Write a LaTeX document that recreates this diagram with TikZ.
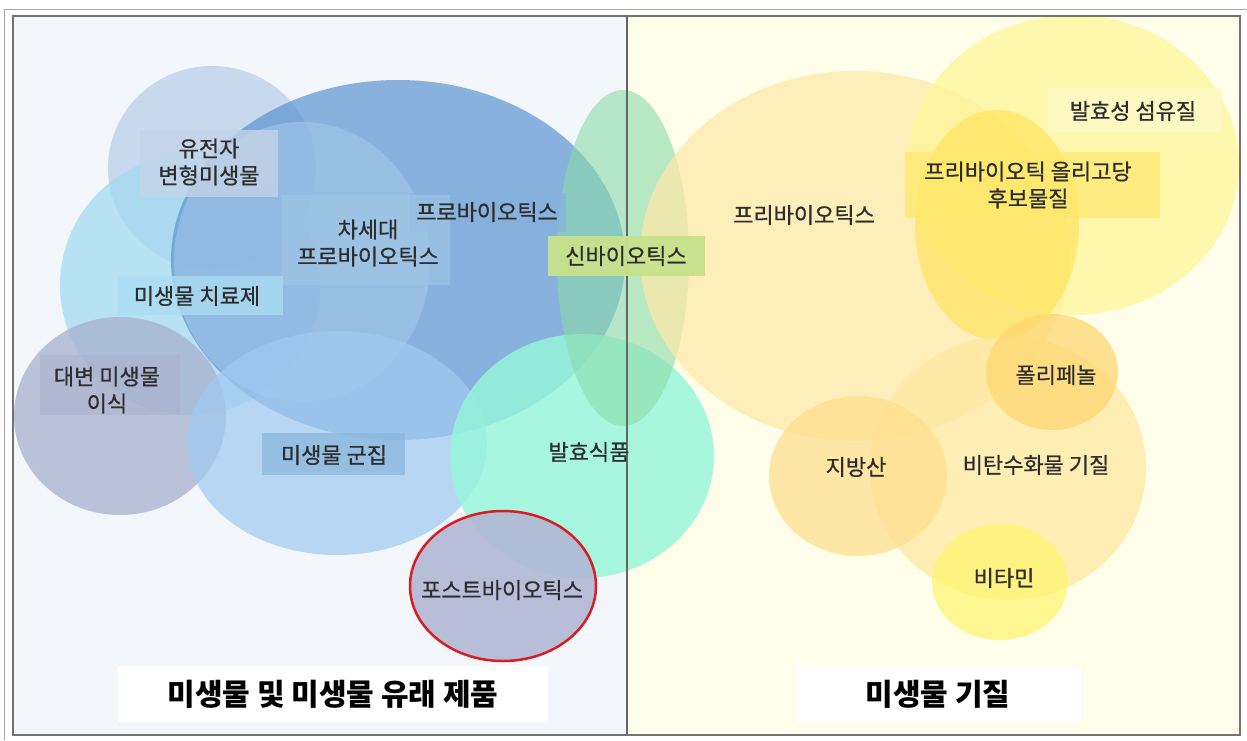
\documentclass[tikz,border=0pt]{standalone}
\usepackage{fontspec}
\setmainfont{Noto Sans CJK KR}
\newfontfamily\lblfont[FakeBold=0.6]{Noto Sans CJK KR}
\begin{document}
\begin{tikzpicture}[x=1pt,y=-1pt,
  blob/.style={fill opacity=0.72},
  lbl/.style={font=\lblfont\fontsize{22}{27}\selectfont, text={rgb,255:red,45;green,45;blue,45}, align=center, inner sep=3pt},
  title/.style={font=\fontsize{30}{34}\selectfont\bfseries, fill=white, text=black, inner sep=0pt}]
\useasboundingbox (0,0) rectangle (1247,740);
\fill[white] (0,0) rectangle (1247,740);
% backgrounds
\fill[fill={rgb,255:red,243;green,247;blue,252}] (12,14) rectangle (627,735);
\fill[fill={rgb,255:red,254;green,254;blue,234}] (627,14) rectangle (1240,735);
% left circles
\fill[blob, fill={rgb,255:red,184;green,205;blue,232}] (212,168) ellipse (104 and 102);
\fill[blob, fill={rgb,255:red,160;green,218;blue,242}] (190,285) ellipse (130 and 130);
\fill[blob, fill={rgb,255:red,165;green,174;blue,204}] (120,416) ellipse (106 and 99);
\fill[blob, fill={rgb,255:red,95;green,150;blue,210}] (398,260) ellipse (227 and 180);
\fill[fill={rgb,255:red,163;green,199;blue,232},fill opacity=0.6] (302,262) ellipse (128 and 140);
\fill[blob, fill={rgb,255:red,160;green,202;blue,240}] (337,443) ellipse (150 and 112);
\fill[fill={rgb,255:red,150;green,246;blue,218}, fill opacity=0.82] (582,456) ellipse (132 and 122);
\fill[fill={rgb,255:red,140;green,220;blue,170}, fill opacity=0.6] (623,258) ellipse (66 and 168);
\fill[fill={rgb,255:red,178;green,184;blue,212}, fill opacity=0.9] (503,586) ellipse (93 and 75);
\draw[line width=2.5pt, draw={rgb,255:red,215;green,30;blue,35}] (503,586) ellipse (93 and 75);
% right circles
\fill[blob, fill={rgb,255:red,254;green,232;blue,168}] (855,256) ellipse (215 and 185);
\fill[blob, fill={rgb,255:red,255;green,246;blue,150}] (1073,165) ellipse (166 and 150);
\fill[fill={rgb,255:red,255;green,226;blue,80}, fill opacity=0.6] (997,225) ellipse (82 and 115);
\fill[blob, fill={rgb,255:red,255;green,232;blue,160}] (1008,468) ellipse (138 and 132);
\fill[blob, fill={rgb,255:red,255;green,214;blue,110}] (1052,372) ellipse (66 and 58);
\fill[blob, fill={rgb,255:red,255;green,222;blue,140}] (858,476) ellipse (89 and 80);
\fill[blob, fill={rgb,255:red,255;green,244;blue,110}] (1000,582) ellipse (68 and 58);
% frame
\draw[gray!70, line width=1pt] (4,9) -- (1247,9);
\draw[gray!70, line width=1pt] (4,9) -- (4,740);
\draw[black!55, line width=1.2pt] (13,16) rectangle (1240,735);
\draw[black!60, line width=1.5pt] (627,16) -- (627,735);
% label boxes
\fill[fill={rgb,255:red,196;green,212;blue,232}, fill opacity=0.8] (140,130) rectangle (278,197);
\fill[fill={rgb,255:red,135;green,178;blue,222}, fill opacity=0.7] (410,193) rectangle (566,232);
\fill[fill={rgb,255:red,160;green,198;blue,230}, fill opacity=0.6] (282,195) rectangle (450,285);
\fill[fill={rgb,255:red,170;green,220;blue,242}, fill opacity=0.8] (118,276) rectangle (283,315);
\fill[fill={rgb,255:red,200;green,226;blue,140}, fill opacity=0.95] (548,236) rectangle (705,276);
\fill[fill={rgb,255:red,170;green,178;blue,206}, fill opacity=0.6] (40,355) rectangle (180,415);
\fill[fill={rgb,255:red,140;green,184;blue,222}, fill opacity=0.8] (262,433) rectangle (405,475);
\fill[fill={rgb,255:red,255;green,250;blue,200}, fill opacity=0.8] (1048,88) rectangle (1222,132);
\fill[fill={rgb,255:red,255;green,232;blue,110}, fill opacity=0.7] (905,152) rectangle (1160,218);
% labels
\node[lbl] (gmo) at (209,162) {유전자\\변형미생물};
\node[lbl] (pro) at (487,212) {프로바이오틱스};
\node[lbl] (ngp) at (368,243) {차세대\\프로바이오틱스};
\node[lbl] (ther) at (197,296) {미생물 치료제};
\node[lbl] (syn) at (626,256) {신바이오틱스};
\node[lbl] (fmt) at (107,390) {대변 미생물\\이식};
\node[lbl] (comm) at (334,455) {미생물 군집};
\node[lbl] (ferm) at (589,452) {발효식품};
\node[lbl] (post) at (502,590) {포스트바이오틱스};
\node[lbl] (pre) at (804,215) {프리바이오틱스};
\node[lbl] (fib) at (1133,111) {발효성 섬유질};
\node[lbl] (oligo) at (1028,185) {프리바이오틱 올리고당\\후보물질};
\node[lbl] (poly) at (1056,375) {폴리페놀};
\node[lbl] (fat) at (856,467) {지방산};
\node[lbl] (nonc) at (1036,465) {비탄수화물 기질};
\node[lbl] (vit) at (1004,578) {비타민};
% titles
\node[title, minimum width=430, minimum height=56] (tl) at (333,694) {미생물 및 미생물 유래 제품};
\node[title, minimum width=285, minimum height=56] (tr) at (938,694) {미생물 기질};
\end{tikzpicture}
\end{document}
